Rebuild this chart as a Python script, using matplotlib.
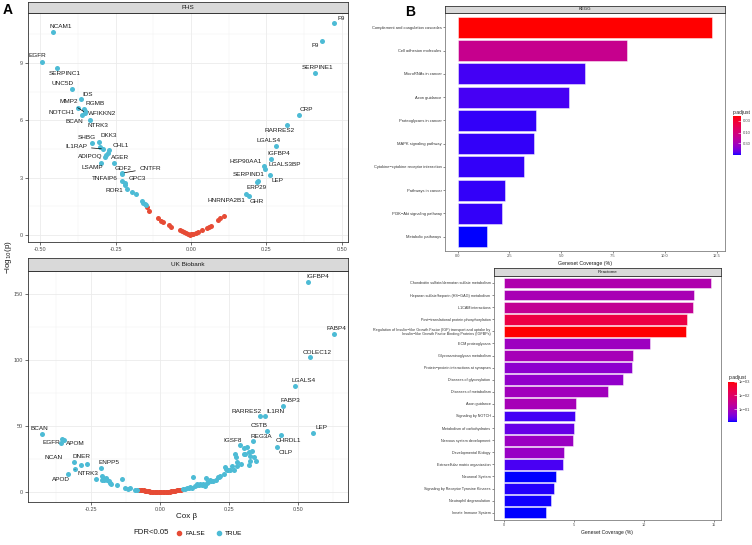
import numpy as np
import matplotlib
matplotlib.use("Agg")
import matplotlib.pyplot as plt
from matplotlib.colors import ListedColormap, LogNorm
from matplotlib.lines import Line2D
import matplotlib.cm as cm

plt.rcParams['font.family'] = ['Liberation Sans', 'DejaVu Sans']

# ---------------- data: FHS volcano ----------------
fhs_gene = ["NCAM1", "EGFR", "SERPINC1", "UNC5D", "IDS", "NOTCH1", "RGMB", "WFIKKN2",
            "MMP2", "BCAN", "NTRK3", "SHBG", "DKK3", "", "IL1RAP", "CHL1", "", "ADIPOQ",
            "", "AGER", "LSAMP", "GDF2", "CNTFR", "TNFAIP6", "GPC3", "", "ROR1",
            "", "", "", "", "", ""] + [""] * 25 + \
           ["HNRNPA2B1", "GHR", "SERPIND1", "ERP29", "LEP", "HSP90AA1", "LGALS3BP",
            "IGFBP4", "LGALS4", "RARRES2", "CRP", "SERPINE1", "F9", "F9"]
fhs_beta = [-0.456, -0.493, -0.444, -0.394, -0.366, -0.375, -0.354, -0.351,
            -0.350, -0.361, -0.333, -0.328, -0.305, -0.301, -0.290, -0.272, -0.275, -0.281,
            -0.284, -0.254, -0.298, -0.229, -0.227, -0.229, -0.219, -0.218, -0.213,
            -0.194, -0.183, -0.164, -0.158, -0.152, -0.150,
            -0.147, -0.140, -0.108, -0.101, -0.094, -0.073, -0.067, -0.037, -0.030, -0.022,
            -0.017, -0.010, -0.001, 0.007, 0.017, 0.023, 0.035, 0.052, 0.060, 0.066, 0.089,
            0.096, 0.110, 0.003, -0.005,
            0.182, 0.192, 0.218, 0.223, 0.263, 0.242, 0.245,
            0.265, 0.283, 0.318, 0.358, 0.410, 0.435, 0.472]
fhs_logp = [10.61, 9.07, 8.74, 7.63, 7.10, 6.66, 6.58, 6.47,
            6.40, 6.28, 6.02, 4.80, 4.89, 4.62, 4.50, 4.45, 4.30, 4.19,
            4.10, 3.79, 3.79, 3.21, 3.24, 2.81, 2.72, 2.63, 2.39,
            2.25, 2.13, 1.80, 1.69, 1.60, 1.55,
            1.48, 1.24, 0.89, 0.74, 0.70, 0.51, 0.44, 0.24, 0.21, 0.14,
            0.09, 0.05, 0.03, 0.07, 0.12, 0.17, 0.26, 0.37, 0.40, 0.49, 0.80,
            0.87, 0.99, 0.04, 0.02,
            2.13, 2.04, 2.79, 2.83, 3.16, 3.60, 3.46,
            3.98, 4.68, 5.76, 6.28, 8.50, 10.17, 11.08]
fhs_fdr = [True] * 33 + [False] * 25 + [True] * 14

# ---------------- data: UK Biobank volcano ----------------
ukb_gene = ["BCAN", "EGFR", "APOM", "NCAN", "DNER", "NTRK3", "APOD", "", "", "", "ENPP5"] + \
           [""] * 92 + \
           ["IGSF8", "RARRES2", "IL1RN", "CSTB", "REG3A", "CHRDL1", "CILP", "LEP",
            "FABP3", "LGALS4", "COLEC12", "FABP4", "IGFBP4"]
ukb_beta = [-0.428, -0.356, -0.347, -0.358, -0.313, -0.308, -0.333, -0.286, -0.263, -0.232, -0.213,
            -0.209, -0.205, -0.202, -0.196, -0.191, -0.186, -0.181, -0.176, -0.210, -0.155,
            -0.137, -0.126, -0.117, -0.110, -0.091, -0.085,
            # not significant
            -0.075, -0.070, -0.065, -0.060, -0.055, -0.050, -0.045, -0.040, -0.035, -0.030,
            -0.025, -0.020, -0.015, -0.010, -0.005, 0.000, 0.005, 0.010, 0.015, 0.020, 0.025,
            0.030, 0.035, 0.040, 0.045, 0.050, 0.055, 0.060, 0.065, 0.070, 0.074,
            # significant, positive
            0.082, 0.091, 0.099, 0.104, 0.109, 0.115, 0.120, 0.127, 0.133, 0.135, 0.141,
            0.145, 0.151, 0.157, 0.161, 0.166, 0.169, 0.175, 0.181, 0.185, 0.193, 0.202,
            0.208, 0.214, 0.217, 0.232, 0.236, 0.239, 0.242, 0.245, 0.254, 0.260, 0.266,
            0.270, 0.273, 0.278, 0.280, 0.292, 0.302, 0.304, 0.313, 0.308, 0.322, 0.326,
            0.334, 0.324, 0.347, 0.320, 0.341,
            0.290, 0.362, 0.380, 0.388, 0.338, 0.436, 0.423, 0.554,
            0.443, 0.490, 0.543, 0.630, 0.537]
ukb_logp = [44.2, 40.4, 39.9, 37.4, 22.7, 17.4, 13.6, 20.5, 21.2, 10.1, 18.2,
            12.4, 11.1, 9.6, 10.6, 9.1, 8.3, 7.3, 6.6, 9.6, 5.8,
            10.1, 3.5, 2.8, 3.5, 2.0, 1.9,
            2.0, 1.8, 1.6, 1.4, 1.2, 1.0, 0.85, 0.7, 0.55, 0.45,
            0.35, 0.25, 0.15, 0.08, 0.03, 0.0, 0.03, 0.08, 0.15, 0.25, 0.35,
            0.45, 0.55, 0.7, 0.85, 1.0, 1.2, 1.4, 1.6, 1.8, 2.0,
            2.3, 2.5, 3.0, 3.5, 4.0, 3.5, 11.6, 4.5, 5.3, 6.1, 5.6,
            6.6, 5.8, 6.6, 5.1, 10.9, 7.1, 7.8, 9.1, 8.3, 8.6, 9.1,
            11.6, 11.9, 12.6, 13.6, 19.2, 17.9, 16.7, 17.2, 16.7, 19.7, 16.7,
            28.8, 26.8, 23.0, 19.7, 21.7, 28.8, 33.8, 34.3, 29.0, 30.5, 27.3,
            31.1, 23.7, 23.7, 20.7, 26.8,
            35.6, 57.8, 57.8, 46.5, 38.6, 43.7, 34.1, 45.2,
            65.7, 80.5, 102.3, 120.2, 159.8]
ukb_fdr = [True] * 27 + [False] * 31 + [True] * (len(ukb_beta) - 58)

# ---------------- data: enrichment ----------------
kegg_term = ["Complement and coagulation cascades", "Cell adhesion molecules",
             "MicroRNAs in cancer", "Axon guidance", "Proteoglycans in cancer",
             "MAPK signaling pathway", "Cytokine\u2212cytokine receptor interaction",
             "Pathways in cancer", "PI3K\u2212Akt signaling pathway", "Metabolic pathways"]
kegg_cov = [12.3, 8.17, 6.14, 5.37, 3.76, 3.69, 3.21, 2.27, 2.14, 1.39]
kegg_padj = [0.0186, 0.147, 0.845, 0.828, 0.897, 0.897, 0.897, 0.897, 0.90, 0.99]

reac_term = ["Chondroitin sulfate/dermatan sulfate metabolism",
             "Heparan sulfate/heparin (HS\u2212GAG) metabolism",
             "L1CAM interactions",
             "Post\u2212translational protein phosphorylation",
             "Regulation of Insulin\u2212like Growth Factor (IGF) transport and uptake by\n"
             "Insulin\u2212like Growth Factor Binding Proteins (IGFBPs)",
             "ECM proteoglycans", "Glycosaminoglycan metabolism",
             "Protein\u2212protein interactions at synapses", "Diseases of glycosylation",
             "Diseases of metabolism", "Axon guidance", "Signaling by NOTCH",
             "Metabolism of carbohydrates", "Nervous system development",
             "Developmental Biology", "Extracellular matrix organization", "Neuronal System",
             "Signaling by Receptor Tyrosine Kinases", "Neutrophil degranulation",
             "Innate Immune System"]
reac_cov = [14.76, 13.57, 13.52, 13.05, 12.98, 10.45, 9.24, 9.14, 8.5, 7.4,
            5.1, 5.02, 4.95, 4.93, 4.26, 4.19, 3.69, 3.55, 3.31, 3.0]
reac_padj = [0.0824, 0.1007, 0.0396, 0.0038, 0.001, 0.1406, 0.1076, 0.210, 0.184, 0.123,
             0.1076, 0.612, 0.410, 0.150, 0.161, 0.573, 0.80, 0.723, 0.773, 0.80]

# ---------------- helpers ----------------
W, H = 752, 545
fig = plt.figure(figsize=(W / 100, H / 100), dpi=100)


def box(l, t, r, b):
    return [l / W, 1 - b / H, (r - l) / W, (b - t) / H]


M = np.array([[0.4124, 0.3576, 0.1805], [0.2126, 0.7152, 0.0722], [0.0193, 0.1192, 0.9505]])
WP = np.array([0.95047, 1.0, 1.08883])


def to_lab(rgb):
    c = np.array(rgb, float)
    c = np.where(c > 0.04045, ((c + 0.055) / 1.055) ** 2.4, c / 12.92)
    xyz = M @ c / WP
    f = np.where(xyz > 0.008856, np.cbrt(xyz), 7.787 * xyz + 16 / 116)
    return np.array([116 * f[1] - 16, 500 * (f[0] - f[1]), 200 * (f[1] - f[2])])


def to_rgb(lab):
    fy = (lab[0] + 16) / 116
    f = np.array([fy + lab[1] / 500, fy, fy - lab[2] / 200])
    xyz = np.where(f ** 3 > 0.008856, f ** 3, (f - 16 / 116) / 7.787) * WP
    c = np.clip(np.linalg.solve(M, xyz), 0, 1)
    c = np.where(c > 0.0031308, 1.055 * c ** (1 / 2.4) - 0.055, 12.92 * c)
    return np.clip(c, 0, 1)


# red -> blue gradient interpolated in Lab, like ggplot's scale_fill_gradient
lab_r, lab_b = to_lab([1, 0, 0]), to_lab([0, 0, 1])
cmap = ListedColormap([to_rgb(lab_r + t * (lab_b - lab_r)) for t in np.linspace(0, 1, 256)])

RED, BLUE = "#E64B35", "#4DBBD5"
TICKC = "#4D4D4D"


def strip(ax_box, text, fs):
    sa = fig.add_axes(ax_box)
    sa.set_facecolor("#D9D9D9")
    sa.set_xticks([]); sa.set_yticks([])
    for s in sa.spines.values():
        s.set_color("#333333"); s.set_linewidth(0.6)
    sa.text(0.5, 0.5, text, ha="center", va="center", fontsize=fs, color="#1A1A1A",
            transform=sa.transAxes)


def volcano(ax, gene, beta, logp, fdr, labels, xt, xminor, yt, yminor, xl, yl):
    ax.set_xlim(*xl); ax.set_ylim(*yl)
    ax.set_xticks(xt); ax.set_yticks(yt)
    ax.set_xticks(xminor, minor=True); ax.set_yticks(yminor, minor=True)
    ax.grid(True, which="major", color="#EBEBEB", lw=0.6)
    ax.grid(True, which="minor", color="#F2F2F2", lw=0.35)
    ax.tick_params(which="minor", length=0)
    ax.tick_params(which="major", length=2, width=0.5, labelsize=4, colors="#333333",
                   labelcolor=TICKC, pad=1.5)
    ax.set_axisbelow(True)
    for s in ax.spines.values():
        s.set_color("#333333"); s.set_linewidth(0.6)
    b = np.array(beta); p = np.array(logp); f = np.array(fdr)
    ax.scatter(b[~f], p[~f], s=13, color=RED, lw=0, zorder=3)
    ax.scatter(b[f], p[f], s=13, color=BLUE, lw=0, zorder=3)
    for i, g in enumerate(gene):
        if not g or i not in labels:
            continue
        lx, ly, seg = labels[i]
        if seg:
            ax.annotate(g, xy=(b[i], p[i]), xytext=(lx, ly), fontsize=4.6, ha="center",
                        va="center", color="#1A1A1A", zorder=4,
                        arrowprops=dict(arrowstyle="-", lw=0.5, color="black",
                                        shrinkA=1, shrinkB=1.5))
        else:
            ax.text(lx, ly, g, fontsize=4.6, ha="center", va="center", color="#1A1A1A",
                    zorder=4)


# ---------------- panel A: FHS ----------------
fhs_lab = {0: (-0.430, 10.9, 0), 1: (-0.509, 9.37, 0), 2: (-0.418, 8.47, 0),
           3: (-0.425, 7.94, 0), 4: (-0.341, 7.36, 0), 5: (-0.430, 6.40, 0),
           6: (-0.316, 6.88, 0), 7: (-0.295, 6.37, 0), 8: (-0.406, 6.98, 1),
           9: (-0.387, 5.92, 0), 10: (-0.308, 5.72, 0), 11: (-0.345, 5.11, 0),
           12: (-0.272, 5.18, 0), 14: (-0.380, 4.62, 1), 15: (-0.233, 4.68, 0),
           17: (-0.335, 4.10, 0), 19: (-0.234, 4.05, 0), 20: (-0.328, 3.51, 0),
           21: (-0.224, 3.49, 0), 22: (-0.135, 3.49, 1), 23: (-0.284, 2.97, 0),
           24: (-0.178, 2.97, 0), 26: (-0.255, 2.32, 0),
           58: (0.116, 1.80, 0), 59: (0.218, 1.77, 0), 60: (0.192, 3.14, 0),
           61: (0.218, 2.50, 0), 62: (0.287, 2.84, 0), 63: (0.180, 3.84, 0),
           64: (0.311, 3.68, 0), 65: (0.291, 4.24, 0), 66: (0.257, 4.96, 0),
           67: (0.292, 5.46, 0), 68: (0.383, 6.56, 0), 69: (0.419, 8.78, 0),
           70: (0.412, 9.90, 0), 71: (0.497, 11.33, 0)}
ax1 = fig.add_axes(box(28, 13.3, 348, 242))
volcano(ax1, fhs_gene, fhs_beta, fhs_logp, fhs_fdr, fhs_lab,
        [-0.5, -0.25, 0, 0.25, 0.5], [-0.375, -0.125, 0.125, 0.375],
        [0, 3, 6, 9], [1.5, 4.5, 7.5, 10.5], (-0.54, 0.52), (-0.37, 11.6))
ax1.set_xticklabels(["-0.50", "-0.25", "0.00", "0.25", "0.50"])
strip(box(28, 2, 348, 13.3), "FHS", 4.6)

# ---------------- panel A: UK Biobank ----------------
ukb_lab_pos = {"BCAN": (-0.438, 48.2, 0), "EGFR": (-0.392, 37.4, 0), "APOM": (-0.307, 37.1, 0),
               "NCAN": (-0.384, 26.0, 0), "DNER": (-0.285, 26.8, 0), "NTRK3": (-0.26, 14.6, 1),
               "APOD": (-0.36, 9.6, 0), "ENPP5": (-0.185, 22.7, 0), "IGSF8": (0.262, 39.4, 0),
               "RARRES2": (0.312, 61.6, 0), "IL1RN": (0.417, 61.6, 0), "CSTB": (0.36, 50.8, 0),
               "REG3A": (0.366, 42.4, 0), "CHRDL1": (0.465, 38.9, 0), "CILP": (0.453, 30.3, 0),
               "LEP": (0.583, 49.2, 0), "FABP3": (0.472, 69.7, 0), "LGALS4": (0.518, 84.6, 0),
               "COLEC12": (0.570, 106.3, 0), "FABP4": (0.639, 124.2, 0),
               "IGFBP4": (0.572, 163.9, 0)}
ukb_lab = {i: ukb_lab_pos[g] for i, g in enumerate(ukb_gene) if g in ukb_lab_pos}
ax2 = fig.add_axes(box(28, 270.7, 348, 502.3))
volcano(ax2, ukb_gene, ukb_beta, ukb_logp, ukb_fdr, ukb_lab,
        [-0.25, 0, 0.25, 0.5], [-0.375, -0.125, 0.125, 0.375, 0.625],
        [0, 50, 100, 150], [25, 75, 125], (-0.478, 0.68), (-7.6, 168))
ax2.set_xticklabels(["-0.25", "0.00", "0.25", "0.50"])
strip(box(28, 258.3, 348, 270.7), "UK Biobank", 4.6)

fig.text(187 / W, 1 - 516 / H, "Cox \u03b2", ha="center", va="center", fontsize=5.8,
         color="#1A1A1A")
fig.text(8 / W, 1 - 257 / H, "\u2212log$_{10}$(p)", ha="center", va="center", fontsize=5.8,
         rotation=90, color="#1A1A1A")
fig.text(133 / W, 1 - 533 / H, "FDR<0.05", ha="left", va="center", fontsize=5.6,
         color="#1A1A1A")
handles = [Line2D([], [], marker="o", ls="", color=RED, markersize=3.0, label="FALSE"),
           Line2D([], [], marker="o", ls="", color=BLUE, markersize=3.0, label="TRUE")]
fig.legend(handles=handles, loc="center left", bbox_to_anchor=(173 / W, 1 - 533 / H), ncol=2,
           frameon=False, fontsize=4.6, handletextpad=0.5, columnspacing=1.6,
           handlelength=1.0, borderpad=0)

fig.text(3 / W, 1 - 10 / H, "A", fontsize=10, fontweight="bold", va="center", ha="left")
fig.text(405 / W, 1 - 12 / H, "B", fontsize=10, fontweight="bold", va="center", ha="left")


# ---------------- panel B: bar charts ----------------
def bars(ax, terms, cov, padj, norm, xt, xl, fs):
    n = len(terms)
    y = np.arange(n)[::-1]
    ax.barh(y, cov, height=0.9, color=cmap(norm(np.array(padj))),
            edgecolor=(1, 1, 1, 0.55), lw=0.6)
    ax.set_ylim(-0.6, n - 0.4)
    ax.set_xlim(*xl)
    ax.set_yticks(y)
    ax.set_yticklabels(terms, fontsize=fs, color=TICKC, linespacing=0.95)
    ax.set_xticks(xt)
    ax.tick_params(length=1.5, width=0.4, colors="#333333", labelsize=fs, pad=1)
    for lab in ax.get_xticklabels():
        lab.set_color(TICKC)
    for s in ax.spines.values():
        s.set_color("#7F7F7F"); s.set_linewidth(0.6)
    ax.set_xlabel("Geneset Coverage (%)", fontsize=fs + 0.9, color="#1A1A1A", labelpad=2)


def cbar(ax_box, norm, ticks, labels, title_y):
    cax = fig.add_axes(ax_box)
    cb = fig.colorbar(cm.ScalarMappable(norm=norm, cmap=cmap), cax=cax)
    cb.outline.set_visible(False)
    cax.invert_yaxis()
    cb.set_ticks(ticks)
    cb.set_ticklabels(labels)
    cax.minorticks_off()
    cax.tick_params(which="both", length=2, width=0.4, color="white", direction="in",
                    labelsize=3, labelcolor=TICKC, pad=1.5)
    fig.text(ax_box[0], title_y, "p.adjust", fontsize=3.6, ha="left", va="bottom",
             color="#1A1A1A")


kegg_norm = LogNorm(vmin=0.0186, vmax=0.99)
ax3 = fig.add_axes(box(445, 13.3, 725, 250.7))
bars(ax3, kegg_term, kegg_cov, kegg_padj, kegg_norm, [0, 2.5, 5, 7.5, 10, 12.5],
     (-0.615, 12.91), 2.9)
ax3.set_xticklabels(["0.0", "2.5", "5.0", "7.5", "10.0", "12.5"])
strip(box(445, 5.7, 725, 13.3), "KEGG", 3.2)
cbar(box(733, 116, 741, 155), kegg_norm, [0.03, 0.1, 0.3], ["0.03", "0.10", "0.30"],
     1 - 115 / H)

reac_norm = LogNorm(vmin=0.001, vmax=0.8)
ax4 = fig.add_axes(box(494, 275.7, 720.7, 520))
bars(ax4, reac_term, reac_cov, reac_padj, reac_norm, [0, 5, 10, 15], (-0.74, 15.48), 2.7)
strip(box(494, 268.3, 720.7, 275.7), "Reactome", 3.2)
cbar(box(728.3, 381.7, 736.7, 421.7), reac_norm, [0.001, 0.01, 0.1],
     ["1e\u221203", "1e\u221202", "1e\u221201"], 1 - 380.5 / H)

fig.savefig("out.png", dpi=100)
